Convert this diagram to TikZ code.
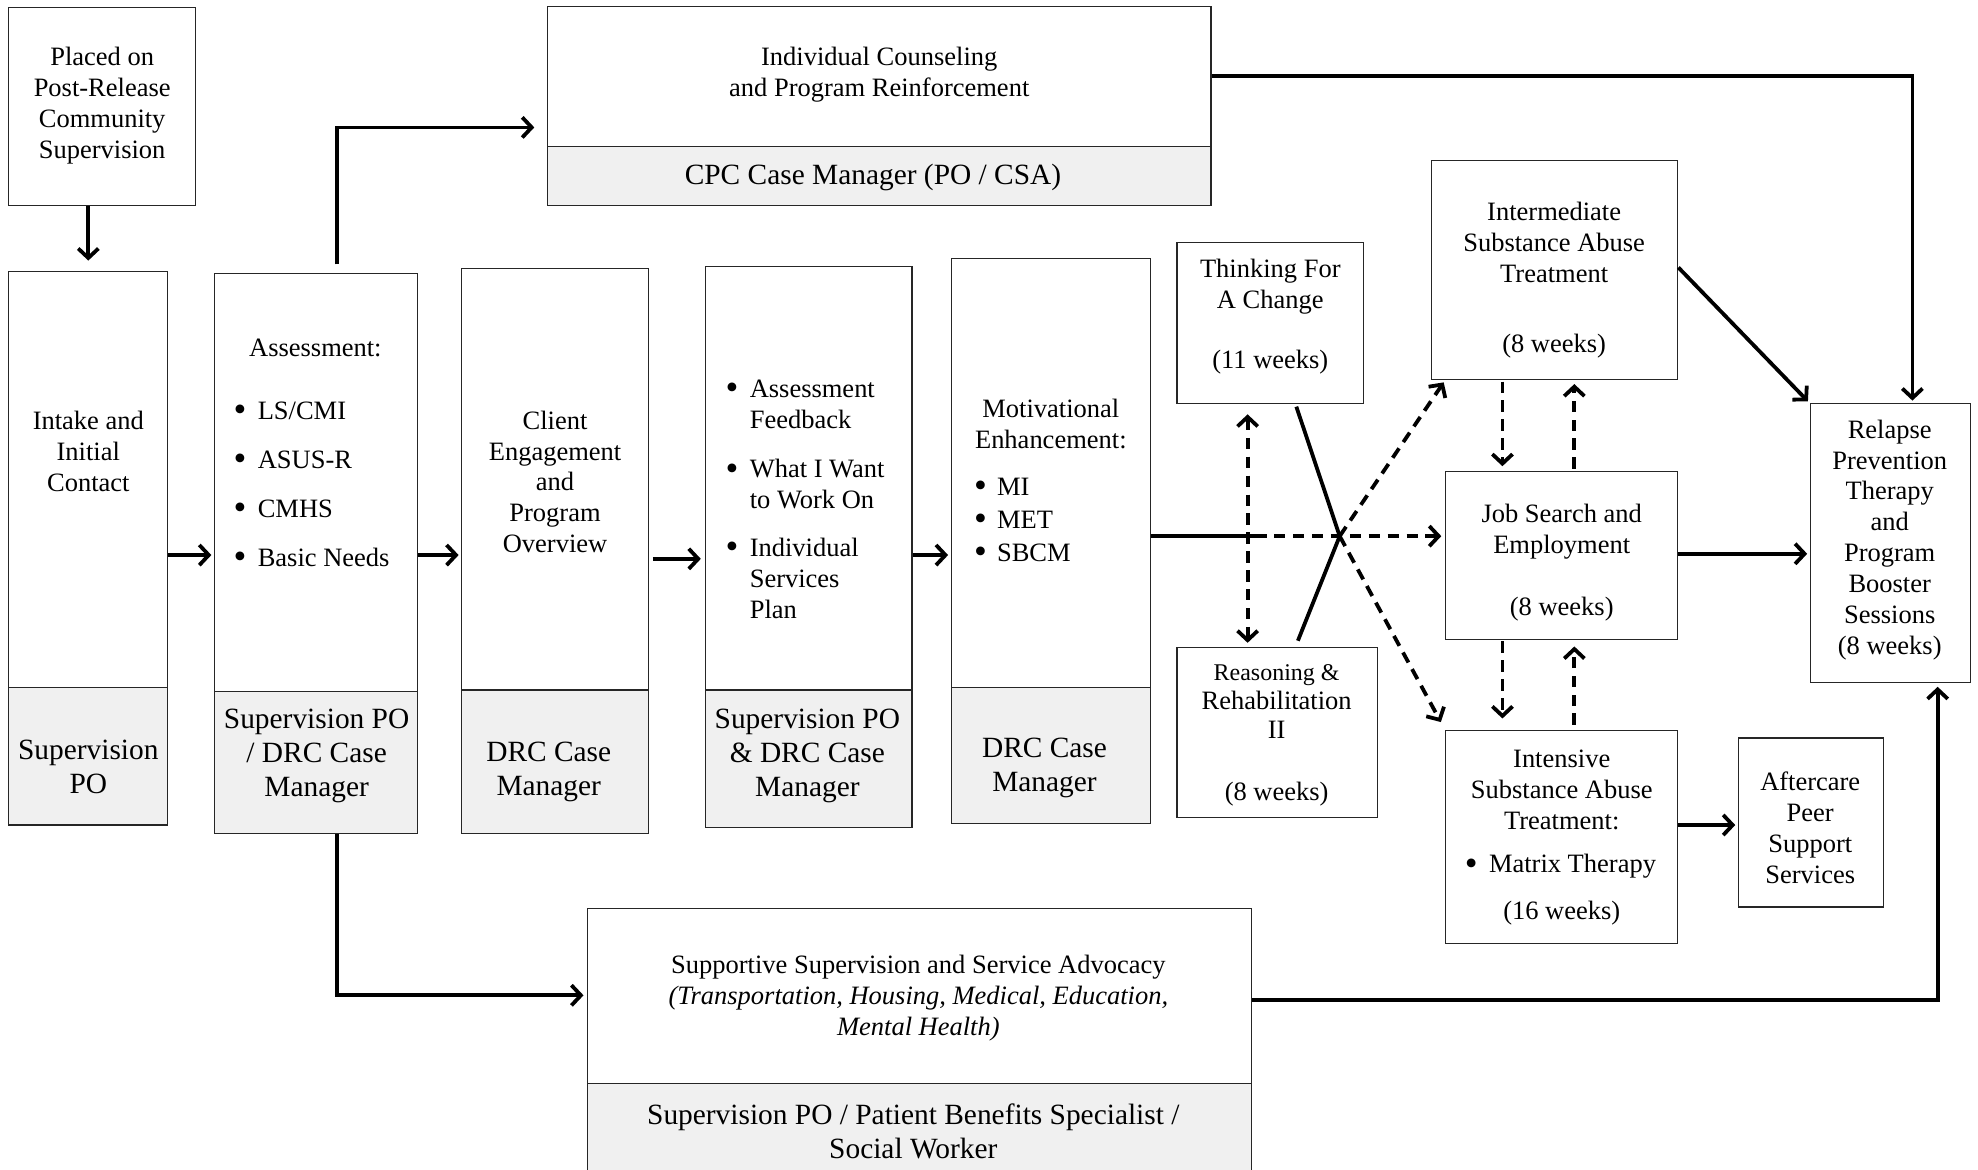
\documentclass[tikz,border=0pt]{standalone}
\usepackage{fontspec}
\setmainfont{Liberation Serif}
\usetikzlibrary{arrows.meta,fit}
\newcommand\mainfs{\fontsize{21}{24.5}\selectfont}
\newcommand\grayfs{\fontsize{23.3}{27}\selectfont}
\newcommand\bul{\raisebox{-1.6pt}{\fontsize{29}{24.5}\selectfont\textbullet}}
\begin{document}
\begin{tikzpicture}[x=1pt,y=-1pt,
  box/.style={draw=black!85, line width=0.9pt, inner sep=0pt, fill=white},
  gbox/.style={draw=black!85, line width=0.9pt, inner sep=0pt, fill=black!6},
  txt/.style={inner sep=0pt, align=center, font=\mainfs},
  ltxt/.style={inner sep=0pt, align=left, font=\mainfs},
  gtxt/.style={inner sep=0pt, align=center, font=\grayfs},
  tip/.style={-{Straight Barb[length=7.5pt,width=16pt]}},
  arr/.style={line width=3pt, tip},
  ln/.style={line width=3pt},
  dsh/.style={line width=3pt, dash pattern=on 9pt off 6pt},
  dbl/.style={line width=3pt, dash pattern=on 9pt off 6pt,
     {Straight Barb[length=7.5pt,width=16pt]}-{Straight Barb[length=7.5pt,width=16pt]}},
]
\useasboundingbox (0,0) rectangle (1568,927);

% ---------- boxes ----------
\node[box, fit={(7,6) (155,163)}] (placed) {};
\node[txt] (placedT) at (81,84) {Placed on\\Post-Release\\Community\\Supervision};

\node[box, fit={(7,215) (133,654)}] (intake) {};
\node[gbox, fit={(7,545) (133,654)}] (intakeG) {};
\node[txt] (intakeT) at (70,358) {Intake and\\Initial\\Contact};
\node[gtxt] (intakeGT) at (70,608) {Supervision\\PO};

\node[box, fit={(170,217) (331,661)}] (assess) {};
\node[gbox, fit={(170,548) (331,661)}] (assessG) {};
\node[txt] (assessH) at (250,276) {Assessment:};
\node[ltxt, anchor=west] (assessL) at (185,386) {\begin{tabular}{@{}l@{\hspace{9pt}}l@{}}
\bul & LS/CMI\\[14.2pt]
\bul & ASUS-R\\[14.2pt]
\bul & CMHS\\[14.2pt]
\bul & Basic Needs
\end{tabular}};
\node[gtxt] (assessGT) at (251,599) {Supervision PO\\/ DRC Case\\Manager};

\node[box, fit={(366,213) (514,661)}] (client) {};
\node[gbox, fit={(366,547) (514,661)}] (clientG) {};
\node[txt] (clientT) at (440,382) {Client\\Engagement\\and\\Program\\Overview};
\node[gtxt] (clientGT) at (435,612) {DRC Case\\Manager};

\node[box, fit={(559,211) (723,656)}] (plan) {};
\node[gbox, fit={(559,547) (723,656)}] (planG) {};
\node[ltxt, anchor=west] (planL) at (575,398) {\begin{tabular}{@{}l@{\hspace{9pt}}l@{}}
\bul & Assessment\\
 & Feedback\\[14.5pt]
\bul & What I Want\\
 & to Work On\\[13.5pt]
\bul & Individual\\
 & Services\\
 & Plan
\end{tabular}};
\node[gtxt] (planGT) at (640,599) {Supervision PO\\\&~DRC Case\\Manager};

\node[box, fit={(754,205) (912,653)}] (motiv) {};
\node[gbox, fit={(754,545) (912,653)}] (motivG) {};
\node[txt] (motivH) at (833,336) {Motivational\\Enhancement:};
\node[ltxt, anchor=west] (motivL) at (772,414) {\begin{tabular}{@{}l@{\hspace{8pt}}l@{}}
\bul & MI\\[1.5pt]
\bul & MET\\[1.5pt]
\bul & SBCM
\end{tabular}};
\node[gtxt] (motivGT) at (828,609) {DRC Case\\Manager};

\node[box, fit={(933,192) (1081,320)}] (think) {};
\node[txt] (thinkT) at (1007,251) {Thinking For\\A Change\\[23.5pt](11 weeks)};

\node[box, fit={(933,513) (1092,648)}] (reason) {};
\node[txt, font=\fontsize{21}{23}\selectfont] (reasonT) at (1012,583) {{\fontsize{19}{23}\selectfont Reasoning \&}\\Rehabilitation\\II\\[26pt](8 weeks)};

\node[box, fit={(1135,127) (1330,301)}] (inter) {};
\node[txt] (interT) at (1232,222) {Intermediate\\Substance Abuse\\Treatment\\[31.5pt](8 weeks)};

\node[box, fit={(1146,374) (1330,507)}] (job) {};
\node[txt] (jobT) at (1238,446) {Job Search and\\Employment\\[24.5pt](8 weeks)};

\node[box, fit={(1146,579) (1330,748)}] (intens) {};
\node[txt] (intensH) at (1238,626) {Intensive\\Substance Abuse\\Treatment:};
\node[ltxt, anchor=west] (intensL) at (1161,687) {\bul\hspace{9pt}Matrix Therapy};
\node[txt] (intensW) at (1238,724) {(16 weeks)};

\node[box, fit={(1378,585) (1493,719)}] (after) {};
\node[txt] (afterT) at (1435,656) {Aftercare\\Peer\\Support\\Services};

\node[box, fit={(1435,320) (1562,541)}] (relapse) {};
\node[txt] (relapseT) at (1498,428) {Relapse\\Prevention\\Therapy\\and\\Program\\Booster\\Sessions\\(8 weeks)};

\node[box, fit={(434,5) (960,163)}] (indiv) {};
\node[gbox, fit={(434,116) (960,163)}] (indivG) {};
\node[txt] (indivT) at (697,59) {Individual Counseling\\and Program Reinforcement};
\node[gtxt] (indivGT) at (692,141) {CPC Case Manager (PO / CSA)};

\node[box, fit={(466,720) (992,940)}] (supp) {};
\node[gbox, fit={(466,859) (992,940)}] (suppG) {};
\node[txt] (suppT) at (728,791) {Supportive Supervision and Service Advocacy\\\textit{(Transportation, Housing, Medical, Education,}\\\textit{Mental Health)}};
\node[gtxt] (suppGT) at (724,897) {Supervision PO / Patient Benefits Specialist /\\Social Worker};

% ---------- helper coordinates ----------
\coordinate (r440) at (0,440);
\coordinate (r443) at (0,443);
\coordinate (r101) at (0,101);
\coordinate (r789) at (0,789);
\coordinate (r60) at (0,60);
\coordinate (r793) at (0,793);
\coordinate (r654) at (0,654);
\coordinate (r439) at (0,439);
\coordinate (r212) at (0,212);
\coordinate (c267) at (267,0);
\coordinate (c1516) at (1516,0);
\coordinate (c1536) at (1536,0);
\coordinate (c1027) at (1027,0);
\coordinate (c989) at (989,0);
\coordinate (c1191) at (1191,0);
\coordinate (c1248) at (1248,0);
\coordinate (hub) at (1062,425);
\coordinate (solidend) at (995,425);

% ---------- connectors ----------
\draw[arr, shorten >=8pt] (intake.north |- placed.south) -- (intake.north);
\draw[arr, shorten >=2pt] (intake.east |- r440) -- (assess.west |- r440);
\draw[arr, shorten >=2pt] (assess.east |- r440) -- (client.west |- r440);
\draw[arr, shorten <=3pt, shorten >=3pt] (client.east |- r443) -- (plan.west |- r443);
\draw[arr, shorten >=2pt] (plan.east |- r440) -- (motiv.west |- r440);

\draw[arr, shorten <=7pt, shorten >=10pt] (assess.north -| c267) -- (c267 |- r101) -- (indiv.west |- r101);
\draw[arr, shorten >=3pt] (assess.south -| c267) -- (c267 |- r789) -- (supp.west |- r789);
\draw[arr, shorten >=2pt] (indiv.east |- r60) -- (c1516 |- r60) -- (relapse.north -| c1516);
\draw[arr, shorten >=3pt] (supp.east |- r793) -- (c1536 |- r793) -- (relapse.south -| c1536);

\draw[ln] (motiv.east |- hub) -- (solidend);
\draw[dsh, tip, shorten >=3pt] (solidend) -- (job.west |- hub);
\draw[ln, shorten <=2pt] (think.south -| c1027) -- (hub);
\draw[ln, shorten <=5pt] (reason.north -| c1027) -- (hub);
\draw[dsh, tip, shorten >=2pt] (hub) -- ([xshift=11pt]inter.south west);
\draw[dsh, tip, shorten >=7pt] (hub) -- (intens.north west);
\draw[dbl, shorten <=8pt, shorten >=3pt] (think.south -| c989) -- (reason.north -| c989);

\draw[dsh, tip, shorten <=1pt, shorten >=4pt] (inter.south -| c1191) -- (job.north -| c1191);
\draw[dsh, tip, shorten <=2pt, shorten >=3pt] (job.north -| c1248) -- (inter.south -| c1248);
\draw[dsh, tip, shorten <=1pt, shorten >=9pt] (job.south -| c1191) -- (intens.north -| c1191);
\draw[dsh, tip, shorten <=4pt, shorten >=5pt] (intens.north -| c1248) -- (job.south -| c1248);

\draw[arr, shorten >=2pt] (intens.east |- r654) -- (after.west |- r654);
\draw[arr, shorten >=2pt] (inter.east |- r212) -- (relapse.north west);
\draw[arr, shorten >=2pt] (job.east |- r439) -- (relapse.west |- r439);
\end{tikzpicture}
\end{document}
